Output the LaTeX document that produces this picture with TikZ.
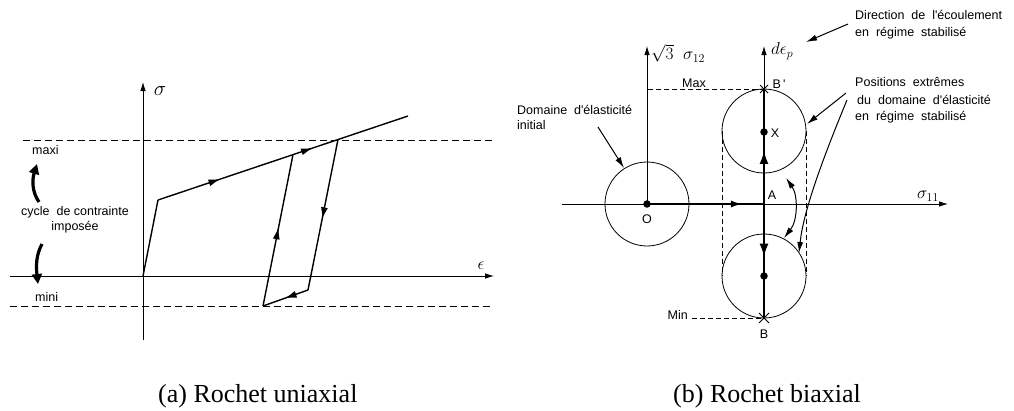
\documentclass[tikz,border=0pt]{standalone}
\usepackage{fontspec}
\setmainfont{Liberation Serif}
\newfontfamily\labfont{Liberation Sans}
\usetikzlibrary{arrows.meta,decorations.markings,calc}
\begin{document}
\begin{tikzpicture}[x=1pt,y=-1pt,
 lbl/.style={font=\labfont\fontsize{12.5}{15}\selectfont,inner sep=0pt},
 mth/.style={inner sep=0pt},
 axis/.style={line width=0.8pt,-{Latex[length=9pt,width=5.5pt]}},
 dashln/.style={line width=0.8pt,dash pattern=on 7pt off 4pt},
 curve/.style={line width=1.4pt},
 marr/.style={postaction={decorate},decoration={markings,mark=at position #1 with {\arrow{Latex[length=12pt,width=7pt]}}}},
 marrtwo/.style 2 args={postaction={decorate},decoration={markings,
   mark=at position #1 with {\arrow{Latex[length=12pt,width=7pt]}},
   mark=at position #2 with {\arrow{Latex[length=12pt,width=7pt]}}}},
 tarr/.style={postaction={decorate},decoration={markings,mark=at position #1 with {\arrow{Latex[length=14pt,width=9pt]}}}},
 heavy/.style={line width=2.8pt},
 callout/.style={line width=1pt,-{Latex[length=11pt,width=6pt]}},
 bigarr/.style={line width=3.2pt,-{Triangle[length=10pt,width=10pt]}},
 dot/.style={circle,fill,inner sep=0pt,minimum size=7.5pt},
 captxt/.style={font=\fontsize{26}{30}\selectfont,inner sep=0pt,anchor=base west},
]
\useasboundingbox (0,0) rectangle (1014,410);

% ---------------- Panel (a) ----------------
\coordinate (sa0) at (143,340);
\coordinate (sa1) at (143,82);
\coordinate (ea0) at (10,276);
\coordinate (ea1) at (494,276);
\draw[axis] (sa0) -- (sa1);
\draw[axis] (ea0) -- (ea1);
\node[mth,font=\fontsize{20}{24}\selectfont] (siglab) at (160,91) {$\sigma$};
\node[mth,font=\fontsize{18}{22}\selectfont] (epslab) at (481,266) {$\epsilon$};

\coordinate (mx0) at (23,140);
\coordinate (mx1) at (492,140);
\coordinate (mn0) at (10,306);
\coordinate (mn1) at (492,306);
\draw[dashln] (mx0) -- (mx1);
\draw[dashln] (mn0) -- (mn1);

\coordinate (p0) at (143,276);
\coordinate (p1) at (158,200);
\coordinate (p2) at (338,139.5);
\coordinate (p3) at (408,116);
\coordinate (q1) at (308,290);
\coordinate (q2) at (263,306);
\coordinate (p4) at (293,154.6);
\draw[curve] (p0) -- (p1);
\draw[curve,marrtwo={0.25}{0.62}] (p1) -- (p3);
\draw[curve,marr=0.53] (p2) -- (q1);
\draw[curve,marr=0.52] (q1) -- (q2);
\draw[curve,marr=0.52] (q2) -- (p4);

\node[lbl,anchor=west] (maxi) at (32,150) {maxi};
\node[lbl,anchor=west] (mini) at (35,297) {mini};
\node[lbl] (cyc) at (75,212) {cycle\ \ de contrainte};
\node[lbl] (imp) at (75,227) {imposée};

\coordinate (ua0) at (39,202);
\coordinate (ua1) at (37,164);
\coordinate (da0) at (42,244);
\coordinate (da1) at (38,284);
\draw[bigarr] (ua0) .. controls (32,192) and (32,180) .. (ua1);
\draw[bigarr] (da0) .. controls (36,255) and (36,266) .. (da1);

% ---------------- Panel (b) ----------------
\coordinate (O) at (647,204);
\coordinate (A) at (764,204);
\coordinate (Bp) at (764,89);
\coordinate (B) at (764,318);
\coordinate (Cu) at (764,131);
\coordinate (Cl) at (764,276);

\coordinate (s12top) at (647,46);
\coordinate (s11a) at (562,204);
\coordinate (s11b) at (948,204);
\coordinate (dtop) at (764,46);
\draw[axis] (O) -- (s12top);
\draw[axis] (s11a) -- (s11b);
\draw[axis] (A) -- (dtop);

\draw[line width=0.8pt] (O) circle[radius=42];
\draw[line width=0.8pt] (Cu) circle[radius=42];
\draw[line width=0.8pt] (Cl) circle[radius=42];

\coordinate (maxl) at (648,89);
\coordinate (minl) at (692,318);
\draw[line width=0.7pt,dash pattern=on 5pt off 3pt] (maxl) -- (Bp);
\draw[line width=0.7pt,dash pattern=on 5pt off 3pt] (minl) -- (B);
\coordinate (dl0) at (722,131);
\coordinate (dl1) at (722,276);
\coordinate (dr0) at (806,131);
\coordinate (dr1) at (806,276);
\draw[line width=0.7pt,dash pattern=on 5pt off 3pt] (dl0) -- (dl1);
\draw[line width=0.7pt,dash pattern=on 5pt off 3pt] (dr0) -- (dr1);

\draw[heavy,marr=0.82] (O) -- (A);
\draw[heavy,tarr=0.47] (A) -- (Bp);
\draw[heavy,tarr=0.47] (A) -- (B);

\node[dot] (Odot) at (O) {};
\node[dot] (Xdot) at (764,132) {};
\node[dot] (Ldot) at (Cl) {};

\draw[line width=1pt] ($(Bp)+(-4,-4)$) -- ($(Bp)+(4,4)$);
\draw[line width=1pt] ($(Bp)+(-4,4)$) -- ($(Bp)+(4,-4)$);
\draw[line width=1pt] ($(B)+(-5,-5)$) -- ($(B)+(5,5)$);
\draw[line width=1pt] ($(B)+(-5,5)$) -- ($(B)+(5,-5)$);

\node[lbl] (Olab) at (647,219) {O};
\node[lbl] (Alab) at (772,195) {A};
\node[lbl] (Xlab) at (775,133) {X};
\node[lbl] (Bplab) at (779,84) {B\,'};
\node[lbl] (Blab) at (764,334) {B};
\node[lbl] (Maxlab) at (694,83) {Max};
\node[lbl,anchor=east] (Minlab) at (688,315) {Min};

\node[mth,anchor=west,font=\fontsize{17}{20}\selectfont] (s12lab) at (651,53) {$\sqrt{3}\;\;\sigma_{12}$};
\node[mth,anchor=west,font=\fontsize{17}{20}\selectfont] (dlab) at (771,51) {$d\epsilon_p$};
\node[mth,font=\fontsize{17}{20}\selectfont] (s11lab) at (928,196) {$\sigma_{11}$};

% double curved arrow between circles
\coordinate (da) at (786,178);
\coordinate (db) at (784,238);
\draw[line width=1pt,{Latex[length=11pt,width=6pt]}-{Latex[length=11pt,width=6pt]}] (da) .. controls (798,195) and (798,220) .. (db);

% annotations
\node[lbl,anchor=west] (dir1) at (855,15) {Direction\ \ de\ \ l'écoulement};
\node[lbl,anchor=west] (dir2) at (855,33) {en\ \ régime\ \ stabilisé};
\coordinate (dirs) at (848,24);
\coordinate (dire) at (806,42);
\draw[callout] (dirs) -- (dire);

\node[lbl,anchor=west] (pos1) at (855,82) {Positions\ \ extrêmes};
\node[lbl,anchor=west] (pos2) at (857,100) {du\ \ domaine\ \ d'élasticité};
\node[lbl,anchor=west] (pos3) at (855,117) {en\ \ régime\ \ stabilisé};
\coordinate (ps1) at (846,93);
\coordinate (pe1) at (807,124);
\coordinate (ps2) at (847,100);
\coordinate (pe2) at (799,253);
\draw[callout] (ps1) -- (pe1);
\draw[callout] (ps2) .. controls (818,170) and (803,215) .. (pe2);

\node[lbl,anchor=west] (dom1) at (517,110) {Domaine\ \ d'élasticité};
\node[lbl,anchor=west] (dom2) at (517,125) {initial};
\coordinate (dms) at (598,127);
\coordinate (dme) at (624,168);
\draw[callout] (dms) -- (dme);

% captions
\node[captxt] (capa) at (158,402) {(a) Rochet uniaxial};
\node[captxt] (capb) at (673,402) {(b) Rochet biaxial};
\end{tikzpicture}
\end{document}
